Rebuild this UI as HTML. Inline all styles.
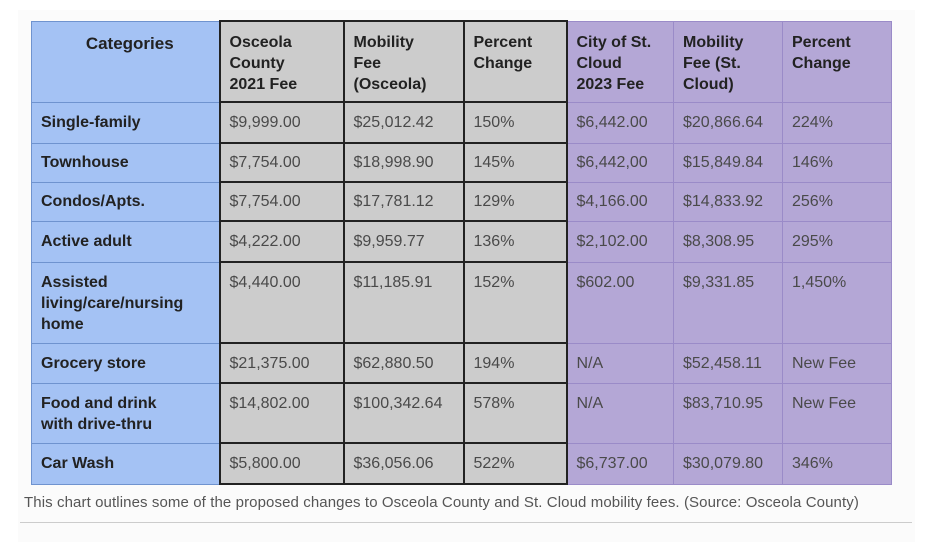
<!DOCTYPE html>
<html><head><style>
body{margin:0;width:928px;height:544px;background:#fff;position:relative;overflow:hidden;font-family:"Liberation Sans",Arial,sans-serif}
.panel{position:absolute;left:18px;top:10px;width:897px;height:532px;background:#fbfbfb}
table{position:absolute;left:31px;top:20px;border-collapse:collapse;table-layout:fixed}
td{padding:0 0 0 9px;font-size:16px;line-height:21px;color:#4a4a4a;vertical-align:middle;box-sizing:border-box}
tr.top td{vertical-align:top;padding-top:9px}
th{font-size:16px;line-height:21px;color:#222;text-align:left;vertical-align:top;padding:10px 0 0 9px;font-weight:bold;box-sizing:border-box}
.b{background:#a4c2f4;border:1px solid #6f93cf;color:#222;font-weight:bold}
.g{background:#cccccc;border:2px solid #222}
.p{background:#b4a7d6;border:1px solid #9a8bc8}
th.b{text-align:center;font-size:17px;padding-top:11px}
.cap{position:absolute;left:24px;top:494px;font-size:15px;color:#555;letter-spacing:0.1px;white-space:nowrap}
.line{position:absolute;left:20px;top:522px;width:892px;height:1px;background:#ccc}
</style></head><body>
<div class="panel"></div>
<table>
<colgroup><col style="width:188px"><col style="width:124px"><col style="width:120px"><col style="width:103px"><col style="width:107px"><col style="width:109px"><col style="width:109px"></colgroup>
<tr style="height:81px"><th class="b">Categories</th><th class="g">Osceola<br>County<br>2021 Fee</th><th class="g">Mobility<br>Fee<br>(Osceola)</th><th class="g">Percent<br>Change</th><th class="p">City of St.<br>Cloud<br>2023 Fee</th><th class="p">Mobility<br>Fee (St.<br>Cloud)</th><th class="p">Percent<br>Change</th></tr>
<tr style="height:41px"><td class="b">Single-family</td><td class="g">$9,999.00</td><td class="g">$25,012.42</td><td class="g">150%</td><td class="p">$6,442.00</td><td class="p">$20,866.64</td><td class="p">224%</td></tr>
<tr style="height:39px"><td class="b">Townhouse</td><td class="g">$7,754.00</td><td class="g">$18,998.90</td><td class="g">145%</td><td class="p">$6,442,00</td><td class="p">$15,849.84</td><td class="p">146%</td></tr>
<tr style="height:39px"><td class="b">Condos/Apts.</td><td class="g">$7,754.00</td><td class="g">$17,781.12</td><td class="g">129%</td><td class="p">$4,166.00</td><td class="p">$14,833.92</td><td class="p">256%</td></tr>
<tr style="height:41px"><td class="b">Active adult</td><td class="g">$4,222.00</td><td class="g">$9,959.77</td><td class="g">136%</td><td class="p">$2,102.00</td><td class="p">$8,308.95</td><td class="p">295%</td></tr>
<tr class="top" style="height:81px"><td class="b">Assisted<br>living/care/nursing<br>home</td><td class="g">$4,440.00</td><td class="g">$11,185.91</td><td class="g">152%</td><td class="p">$602.00</td><td class="p">$9,331.85</td><td class="p">1,450%</td></tr>
<tr style="height:40px"><td class="b">Grocery store</td><td class="g">$21,375.00</td><td class="g">$62,880.50</td><td class="g">194%</td><td class="p">N/A</td><td class="p">$52,458.11</td><td class="p">New Fee</td></tr>
<tr class="top" style="height:60px"><td class="b">Food and drink<br>with drive-thru</td><td class="g">$14,802.00</td><td class="g">$100,342.64</td><td class="g">578%</td><td class="p">N/A</td><td class="p">$83,710.95</td><td class="p">New Fee</td></tr>
<tr style="height:41px"><td class="b">Car Wash</td><td class="g">$5,800.00</td><td class="g">$36,056.06</td><td class="g">522%</td><td class="p">$6,737.00</td><td class="p">$30,079.80</td><td class="p">346%</td></tr>
</table>
<div class="cap">This chart outlines some of the proposed changes to Osceola County and St. Cloud mobility fees. (Source: Osceola County)</div>
<div class="line"></div>
</body></html>
